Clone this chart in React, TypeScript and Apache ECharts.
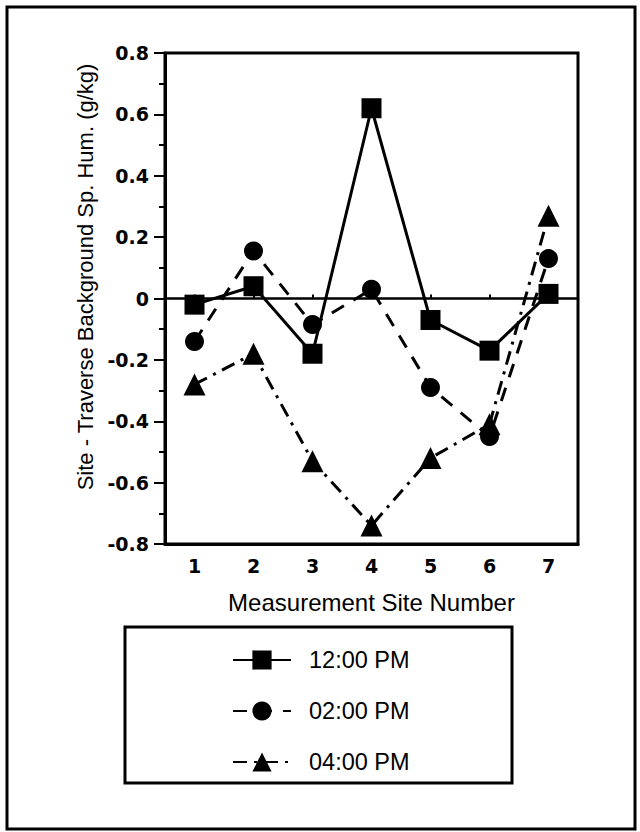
import React, { useEffect, useRef } from "react";
import * as echarts from "echarts";

const sites = ["1", "2", "3", "4", "5", "6", "7"];
const noon = [-0.02, 0.04, -0.18, 0.62, -0.07, -0.17, 0.015];
const twoPm = [-0.14, 0.155, -0.085, 0.03, -0.29, -0.45, 0.13];
const fourPm = [-0.28, -0.18, -0.53, -0.74, -0.52, -0.41, 0.27];
const seriesNames = ["12:00 PM", "02:00 PM", "04:00 PM"];
const yTitle = "Site - Traverse Background Sp. Hum. (g/kg)";
const xTitle = "Measurement Site Number";

export default function App() {
  const ref = useRef<HTMLDivElement>(null);
  useEffect(() => {
    if (!ref.current) return;
    const chart = echarts.init(ref.current, undefined, { renderer: "svg" });
    const tickFont = { fontFamily: "DejaVu Sans", fontWeight: "bold" as const, fontSize: 19, color: "#000" };
    const titleFont = { fontFamily: "Liberation Sans", fontSize: 24, color: "#000" };
    chart.setOption({
      animation: false,
      backgroundColor: "#fff",
      grid: {
        left: 165,
        right: 62,
        top: 53,
        bottom: 288,
        show: true,
        borderColor: "#000",
        borderWidth: 3,
      },
      xAxis: [
        {
          type: "category",
          data: sites,
          boundaryGap: true,
          position: "bottom",
          axisLine: { onZero: false, lineStyle: { color: "#000", width: 3 } },
          axisTick: { show: false },
          axisLabel: { ...tickFont, margin: 12 },
          name: xTitle,
          nameLocation: "middle",
          nameGap: 46,
          nameTextStyle: titleFont,
          splitLine: { show: false },
        },
        {
          type: "category",
          data: sites,
          boundaryGap: true,
          position: "bottom",
          axisLine: { onZero: true, onZeroAxisIndex: 0, lineStyle: { color: "#000", width: 2.5 } },
          axisTick: { show: true, inside: true, length: 4, alignWithLabel: true, lineStyle: { color: "#000", width: 2 } },
          axisLabel: { show: false },
          splitLine: { show: false },
        },
      ],
      yAxis: {
        type: "value",
        min: -0.8,
        max: 0.8,
        interval: 0.2,
        axisLine: { show: true, lineStyle: { color: "#000", width: 3 } },
        axisTick: { show: true, length: 11, lineStyle: { color: "#000", width: 2 } },
        minorTick: { show: true, splitNumber: 2, length: 6, lineStyle: { color: "#000", width: 2 } },
        axisLabel: {
          ...tickFont,
          margin: 16,
          formatter: (v: number) => String(Math.round(v * 10) / 10),
        },
        splitLine: { show: false },
      },
      legend: {
        orient: "vertical",
        left: 227,
        top: 643,
        itemWidth: 58,
        itemHeight: 24,
        itemGap: 27,
        data: seriesNames,
        textStyle: { ...titleFont, fontSize: 23.5, padding: [0, 0, 0, 13] },
      },
      graphic: [
        {
          type: "rect",
          shape: { x: 7, y: 7, width: 628, height: 822 },
          style: { fill: "none", stroke: "#000", lineWidth: 3 },
          silent: true,
        },
        {
          type: "rect",
          shape: { x: 125, y: 627, width: 387, height: 156 },
          style: { fill: "none", stroke: "#000", lineWidth: 3 },
          silent: true,
        },
        {
          type: "text",
          x: 85,
          y: 277,
          rotation: Math.PI / 2,
          style: {
            text: yTitle,
            fontFamily: "Liberation Sans",
            fontSize: 22,
            fill: "#000",
            textAlign: "center",
            textVerticalAlign: "middle",
          },
          silent: true,
        },
      ],
      series: [
        {
          name: seriesNames[0],
          type: "line",
          data: noon,
          symbol: "rect",
          symbolSize: 20,
          itemStyle: { color: "#000" },
          lineStyle: { color: "#000", width: 3, type: "solid" },
        },
        {
          name: seriesNames[1],
          type: "line",
          data: twoPm,
          symbol: "circle",
          symbolSize: 19,
          itemStyle: { color: "#000" },
          lineStyle: { color: "#000", width: 3, type: [14, 11] },
        },
        {
          name: seriesNames[2],
          type: "line",
          data: fourPm,
          symbol: "triangle",
          symbolSize: 22,
          itemStyle: { color: "#000" },
          lineStyle: { color: "#000", width: 3, type: [14, 7, 3, 7] },
        },
      ],
    });
    return () => chart.dispose();
  }, []);
  return (
    <div
      ref={ref}
      style={{ position: "absolute", left: 0, top: 0, width: 640, height: 832 }}
    />
  );
}
